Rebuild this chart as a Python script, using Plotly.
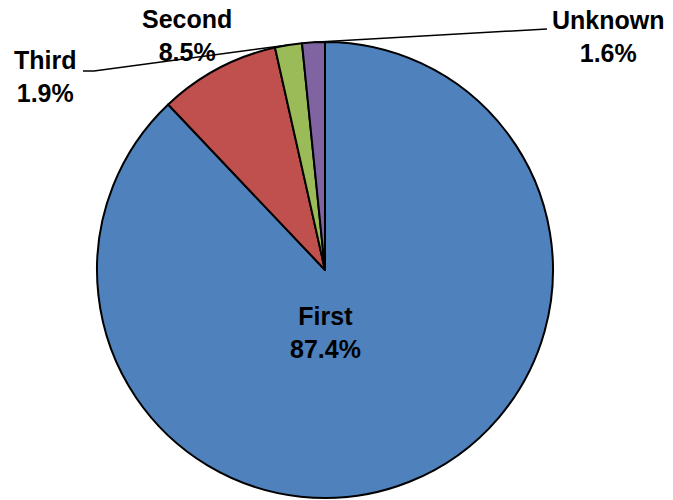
import math
import plotly.graph_objects as go

labels = ["First", "Second", "Third", "Unknown"]
values = [87.4, 8.5, 1.9, 1.6]
colors = ["#4F81BD", "#C0504D", "#9BBB59", "#8064A2"]

W, H = 673, 500
ML, MT = 0, 42
PW, PH = 2 * 325, 456
MR, MB = W - ML - PW, H - MT - PH
CX, CY = ML + PW / 2, MT + PH / 2
R = min(PW, PH) / 2


def px(x):
    return (x - ML) / PW


def py(y):
    return (MT + PH - y) / PH


def edge_point(i):
    total = sum(values)
    start = sum(values[:i]) / total
    mid = start + values[i] / total / 2
    ang = 2 * math.pi * mid
    return CX + R * math.sin(ang), CY - R * math.cos(ang)


fig = go.Figure(go.Pie(
    labels=labels,
    values=values,
    sort=False,
    direction="clockwise",
    rotation=0,
    marker=dict(colors=colors, line=dict(color="black", width=2)),
    textinfo="none",
    hoverinfo="skip",
    showlegend=False,
))

font = dict(family="Liberation Sans, Arial, sans-serif", size=25, color="black")
label_pos = {0: (325, 333), 1: (187, 35), 2: (45, 77), 3: (608, 37)}
for i, (x, y) in label_pos.items():
    fig.add_annotation(
        x=px(x), y=py(y), xref="paper", yref="paper",
        text=f"<b>{labels[i]}<br>{values[i]:.1f}%</b>",
        showarrow=False, font=font, xanchor="center", yanchor="middle",
        borderpad=0,
    )

# leader lines
ex, ey = edge_point(2)
fig.add_shape(type="path", xref="paper", yref="paper",
              path=f"M {px(83)} {py(71)} L {px(94)} {py(71)} L {px(ex)} {py(ey)}",
              line=dict(color="black", width=1.5))
ex, ey = edge_point(3)
fig.add_shape(type="path", xref="paper", yref="paper",
              path=f"M {px(547)} {py(29)} L {px(ex)} {py(ey)}",
              line=dict(color="black", width=1.5))

fig.update_layout(
    width=W, height=H,
    margin=dict(l=ML, r=MR, t=MT, b=MB),
    paper_bgcolor="white", plot_bgcolor="white",
)
fig.write_html(
    "out.html",
    config={"displayModeBar": False, "staticPlot": True},
    post_script="document.body.style.margin='0';document.body.style.overflow='hidden';",
)
